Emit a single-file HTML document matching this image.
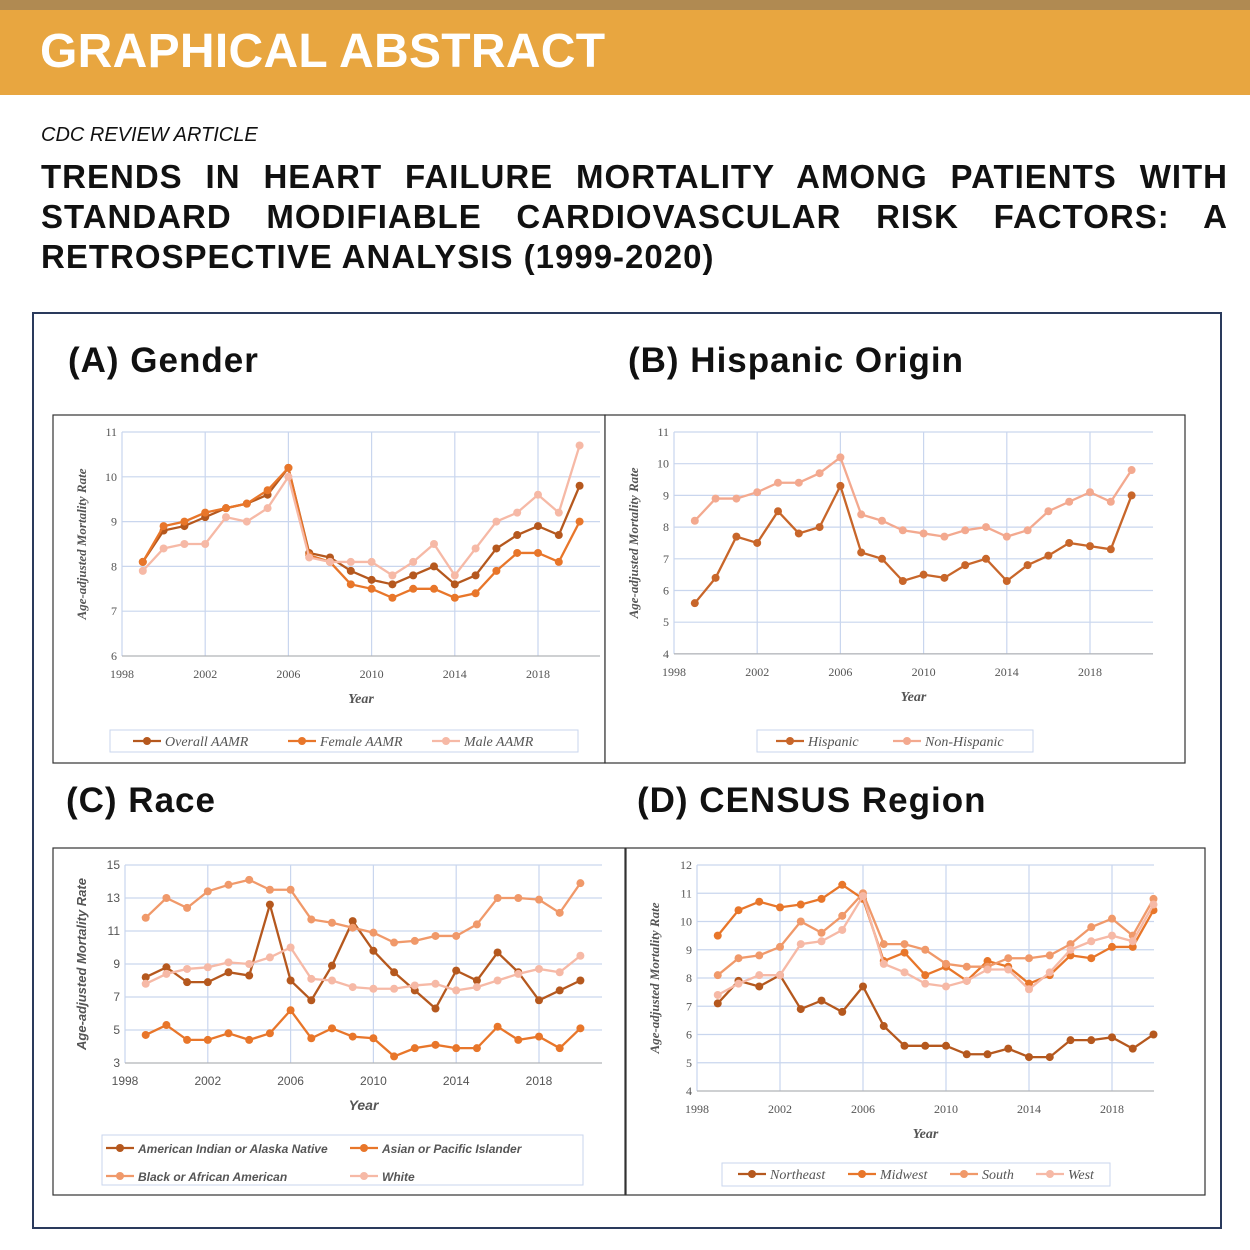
<!DOCTYPE html>
<html><head><meta charset="utf-8"><style>
body{margin:0;width:1250px;height:1250px;background:#fff;position:relative;overflow:hidden;font-family:"Liberation Sans",sans-serif}
.top{position:absolute;left:0;top:0;width:1250px;height:10px;background:#b08a52}
.band{position:absolute;left:0;top:10px;width:1250px;height:85px;background:#e8a640}
.band span{position:absolute;left:40px;top:14px;color:#fff;font-weight:bold;font-size:48px;letter-spacing:0.3px}
.sub{position:absolute;left:41px;top:124px;font-style:italic;font-size:20px;color:#111}
.title{position:absolute;left:41px;top:157px;width:1187px;font-weight:bold;font-size:33px;line-height:40px;color:#111;text-align:justify;text-align-last:left;letter-spacing:1px}
.frame{position:absolute;left:32px;top:312px;width:1186px;height:913px;border:2px solid #2a3a5c}
.ph{position:absolute;font-weight:bold;font-size:35px;color:#111;letter-spacing:1px}
svg{position:absolute;left:0;top:0}
</style></head><body>
<div class="top"></div><div class="band"><span>GRAPHICAL ABSTRACT</span></div>
<div class="sub">CDC REVIEW ARTICLE</div>
<div class="title">TRENDS IN HEART FAILURE MORTALITY AMONG PATIENTS WITH STANDARD MODIFIABLE CARDIOVASCULAR RISK FACTORS: A RETROSPECTIVE ANALYSIS (1999-2020)</div>
<div class="frame"></div>
<div class="ph" style="left:68px;top:341px">(A) Gender</div>
<div class="ph" style="left:628px;top:341px">(B) Hispanic Origin</div>
<div class="ph" style="left:66px;top:781px">(C) Race</div>
<div class="ph" style="left:637px;top:781px">(D) CENSUS Region</div>
<svg id="s" width="1250" height="1250"></svg>
<script>
var svg=document.getElementById('s'),h='';
var C1='#b5581e',C2='#e8762a',C3='#f0996a',C4='#f6b9a6';
function chart(o){
 h+='<rect x="'+o.bx+'" y="'+o.by+'" width="'+o.bw+'" height="'+o.bh+'" fill="#fff" stroke="#333" stroke-width="1.2"/>';
 var X=function(y){return o.x0+(y-1998)*o.px};
 var Y=function(v){return o.y0+(o.ymax-v)*o.py};
 var ff=o.serif?'Liberation Serif':'Liberation Sans';
 for(var v=o.ymin;v<=o.ymax;v+=o.step){
  h+='<line x1="'+o.x0+'" x2="'+o.xr+'" y1="'+Y(v)+'" y2="'+Y(v)+'" stroke="#c9d6ee" stroke-width="1.2"/>';
  h+='<text x="'+(o.x0-5)+'" y="'+(Y(v)+4)+'" font-size="12" fill="#555" text-anchor="end" font-family="'+ff+'">'+v+'</text>';
 }
 for(var y=1998;y<=2018;y+=4){
  h+='<line x1="'+X(y)+'" x2="'+X(y)+'" y1="'+o.y0+'" y2="'+Y(o.ymin)+'" stroke="#c9d6ee" stroke-width="1.2"/>';
  h+='<text x="'+X(y)+'" y="'+(Y(o.ymin)+22)+'" font-size="12" fill="#555" text-anchor="middle" font-family="'+ff+'">'+y+'</text>';
 }
 h+='<line x1="'+o.x0+'" x2="'+o.xr+'" y1="'+Y(o.ymin)+'" y2="'+Y(o.ymin)+'" stroke="#aaa"/>';
 h+='<text x="'+((o.x0+o.xr)/2)+'" y="'+(Y(o.ymin)+47)+'" font-size="14" font-weight="bold" font-style="italic" fill="#555" text-anchor="middle" font-family="'+ff+'">Year</text>';
 var cy=(o.y0+Y(o.ymin))/2;
 h+='<text transform="translate('+(o.bx+33)+','+cy+') rotate(-90)" font-size="13" font-weight="bold" font-style="italic" fill="#555" text-anchor="middle" font-family="'+ff+'">Age-adjusted Mortality Rate</text>';
 o.series.forEach(function(s){
  var p=s.d.map(function(v,i){return X(1999+i)+','+Y(v)}).join(' ');
  h+='<polyline points="'+p+'" fill="none" stroke="'+s.c+'" stroke-width="2.3"/>';
  s.d.forEach(function(v,i){h+='<circle cx="'+X(1999+i)+'" cy="'+Y(v)+'" r="4" fill="'+s.c+'"/>'});
 });
 var L=o.leg;
 h+='<rect x="'+L.x+'" y="'+L.y+'" width="'+L.w+'" height="'+L.h+'" fill="#fff" stroke="#c9d6ee"/>';
 L.items.forEach(function(it,i){
  var s=o.series[i];
  h+='<line x1="'+it[0]+'" x2="'+(it[0]+28)+'" y1="'+it[1]+'" y2="'+it[1]+'" stroke="'+s.c+'" stroke-width="2.3"/><circle cx="'+(it[0]+14)+'" cy="'+it[1]+'" r="4" fill="'+s.c+'"/>';
  h+='<text x="'+(it[0]+32)+'" y="'+(it[1]+5)+'" font-style="italic" fill="#555" font-family="'+ff+'"'+(o.serif?' font-size="14"':' font-weight="bold" font-size="12"')+'>'+it[2]+'</text>';
 });
}
chart({bx:53,by:415,bw:552,bh:348,x0:122,xr:600,px:20.8,y0:432,ymax:11,ymin:6,step:1,py:44.8,serif:true,
 series:[{c:C1,d:[8.1,8.8,8.9,9.1,9.3,9.4,9.6,10.2,8.3,8.2,7.9,7.7,7.6,7.8,8.0,7.6,7.8,8.4,8.7,8.9,8.7,9.8]},
 {c:C2,d:[8.1,8.9,9.0,9.2,9.3,9.4,9.7,10.2,8.25,8.1,7.6,7.5,7.3,7.5,7.5,7.3,7.4,7.9,8.3,8.3,8.1,9.0]},
 {c:C4,d:[7.9,8.4,8.5,8.5,9.1,9.0,9.3,10.0,8.2,8.1,8.1,8.1,7.8,8.1,8.5,7.8,8.4,9.0,9.2,9.6,9.2,10.7]}],
 leg:{x:110,y:730,w:468,h:22,items:[[133,741,'Overall AAMR'],[288,741,'Female AAMR'],[432,741,'Male AAMR']]}});
chart({bx:605,by:415,bw:580,bh:348,x0:674,xr:1153,px:20.8,y0:432,ymax:11,ymin:4,step:1,py:31.7,serif:true,
 series:[{c:'#c8662a',d:[5.6,6.4,7.7,7.5,8.5,7.8,8.0,9.3,7.2,7.0,6.3,6.5,6.4,6.8,7.0,6.3,6.8,7.1,7.5,7.4,7.3,9.0]},
 {c:'#f3a98f',d:[8.2,8.9,8.9,9.1,9.4,9.4,9.7,10.2,8.4,8.2,7.9,7.8,7.7,7.9,8.0,7.7,7.9,8.5,8.8,9.1,8.8,9.8]}],
 leg:{x:757,y:730,w:276,h:22,items:[[776,741,'Hispanic'],[893,741,'Non-Hispanic']]}});
chart({bx:53,by:848,bw:572,bh:347,x0:125,xr:602,px:20.7,y0:865,ymax:15,ymin:3,step:2,py:16.5,serif:false,
 series:[{c:C1,d:[8.2,8.8,7.9,7.9,8.5,8.3,12.6,8.0,6.8,8.9,11.6,9.8,8.5,7.4,6.3,8.6,8.0,9.7,8.5,6.8,7.4,8.0]},
 {c:C2,d:[4.7,5.3,4.4,4.4,4.8,4.4,4.8,6.2,4.5,5.1,4.6,4.5,3.4,3.9,4.1,3.9,3.9,5.2,4.4,4.6,3.9,5.1]},
 {c:C3,d:[11.8,13.0,12.4,13.4,13.8,14.1,13.5,13.5,11.7,11.5,11.2,10.9,10.3,10.4,10.7,10.7,11.4,13.0,13.0,12.9,12.1,13.9]},
 {c:C4,d:[7.8,8.4,8.7,8.8,9.1,9.0,9.4,10.0,8.1,8.0,7.6,7.5,7.5,7.7,7.8,7.4,7.6,8.0,8.4,8.7,8.5,9.5]}],
 leg:{x:102,y:1135,w:481,h:50,items:[[106,1148,'American Indian or Alaska Native'],[350,1148,'Asian or Pacific Islander'],[106,1176,'Black or African American'],[350,1176,'White']]}});
chart({bx:626,by:848,bw:579,bh:347,x0:697,xr:1154,px:20.75,y0:865,ymax:12,ymin:4,step:1,py:28.25,serif:true,
 series:[{c:C1,d:[7.1,7.9,7.7,8.1,6.9,7.2,6.8,7.7,6.3,5.6,5.6,5.6,5.3,5.3,5.5,5.2,5.2,5.8,5.8,5.9,5.5,6.0]},
 {c:C2,d:[9.5,10.4,10.7,10.5,10.6,10.8,11.3,10.8,8.6,8.9,8.1,8.4,7.9,8.6,8.4,7.8,8.1,8.8,8.7,9.1,9.1,10.4]},
 {c:C3,d:[8.1,8.7,8.8,9.1,10.0,9.6,10.2,11.0,9.2,9.2,9.0,8.5,8.4,8.4,8.7,8.7,8.8,9.2,9.8,10.1,9.5,10.8]},
 {c:C4,d:[7.4,7.8,8.1,8.1,9.2,9.3,9.7,10.9,8.5,8.2,7.8,7.7,7.9,8.3,8.3,7.6,8.2,9.0,9.3,9.5,9.3,10.6]}],
 leg:{x:722,y:1163,w:388,h:23,items:[[738,1174,'Northeast'],[848,1174,'Midwest'],[950,1174,'South'],[1036,1174,'West']]}});
svg.innerHTML=h;
</script>
</body></html>
